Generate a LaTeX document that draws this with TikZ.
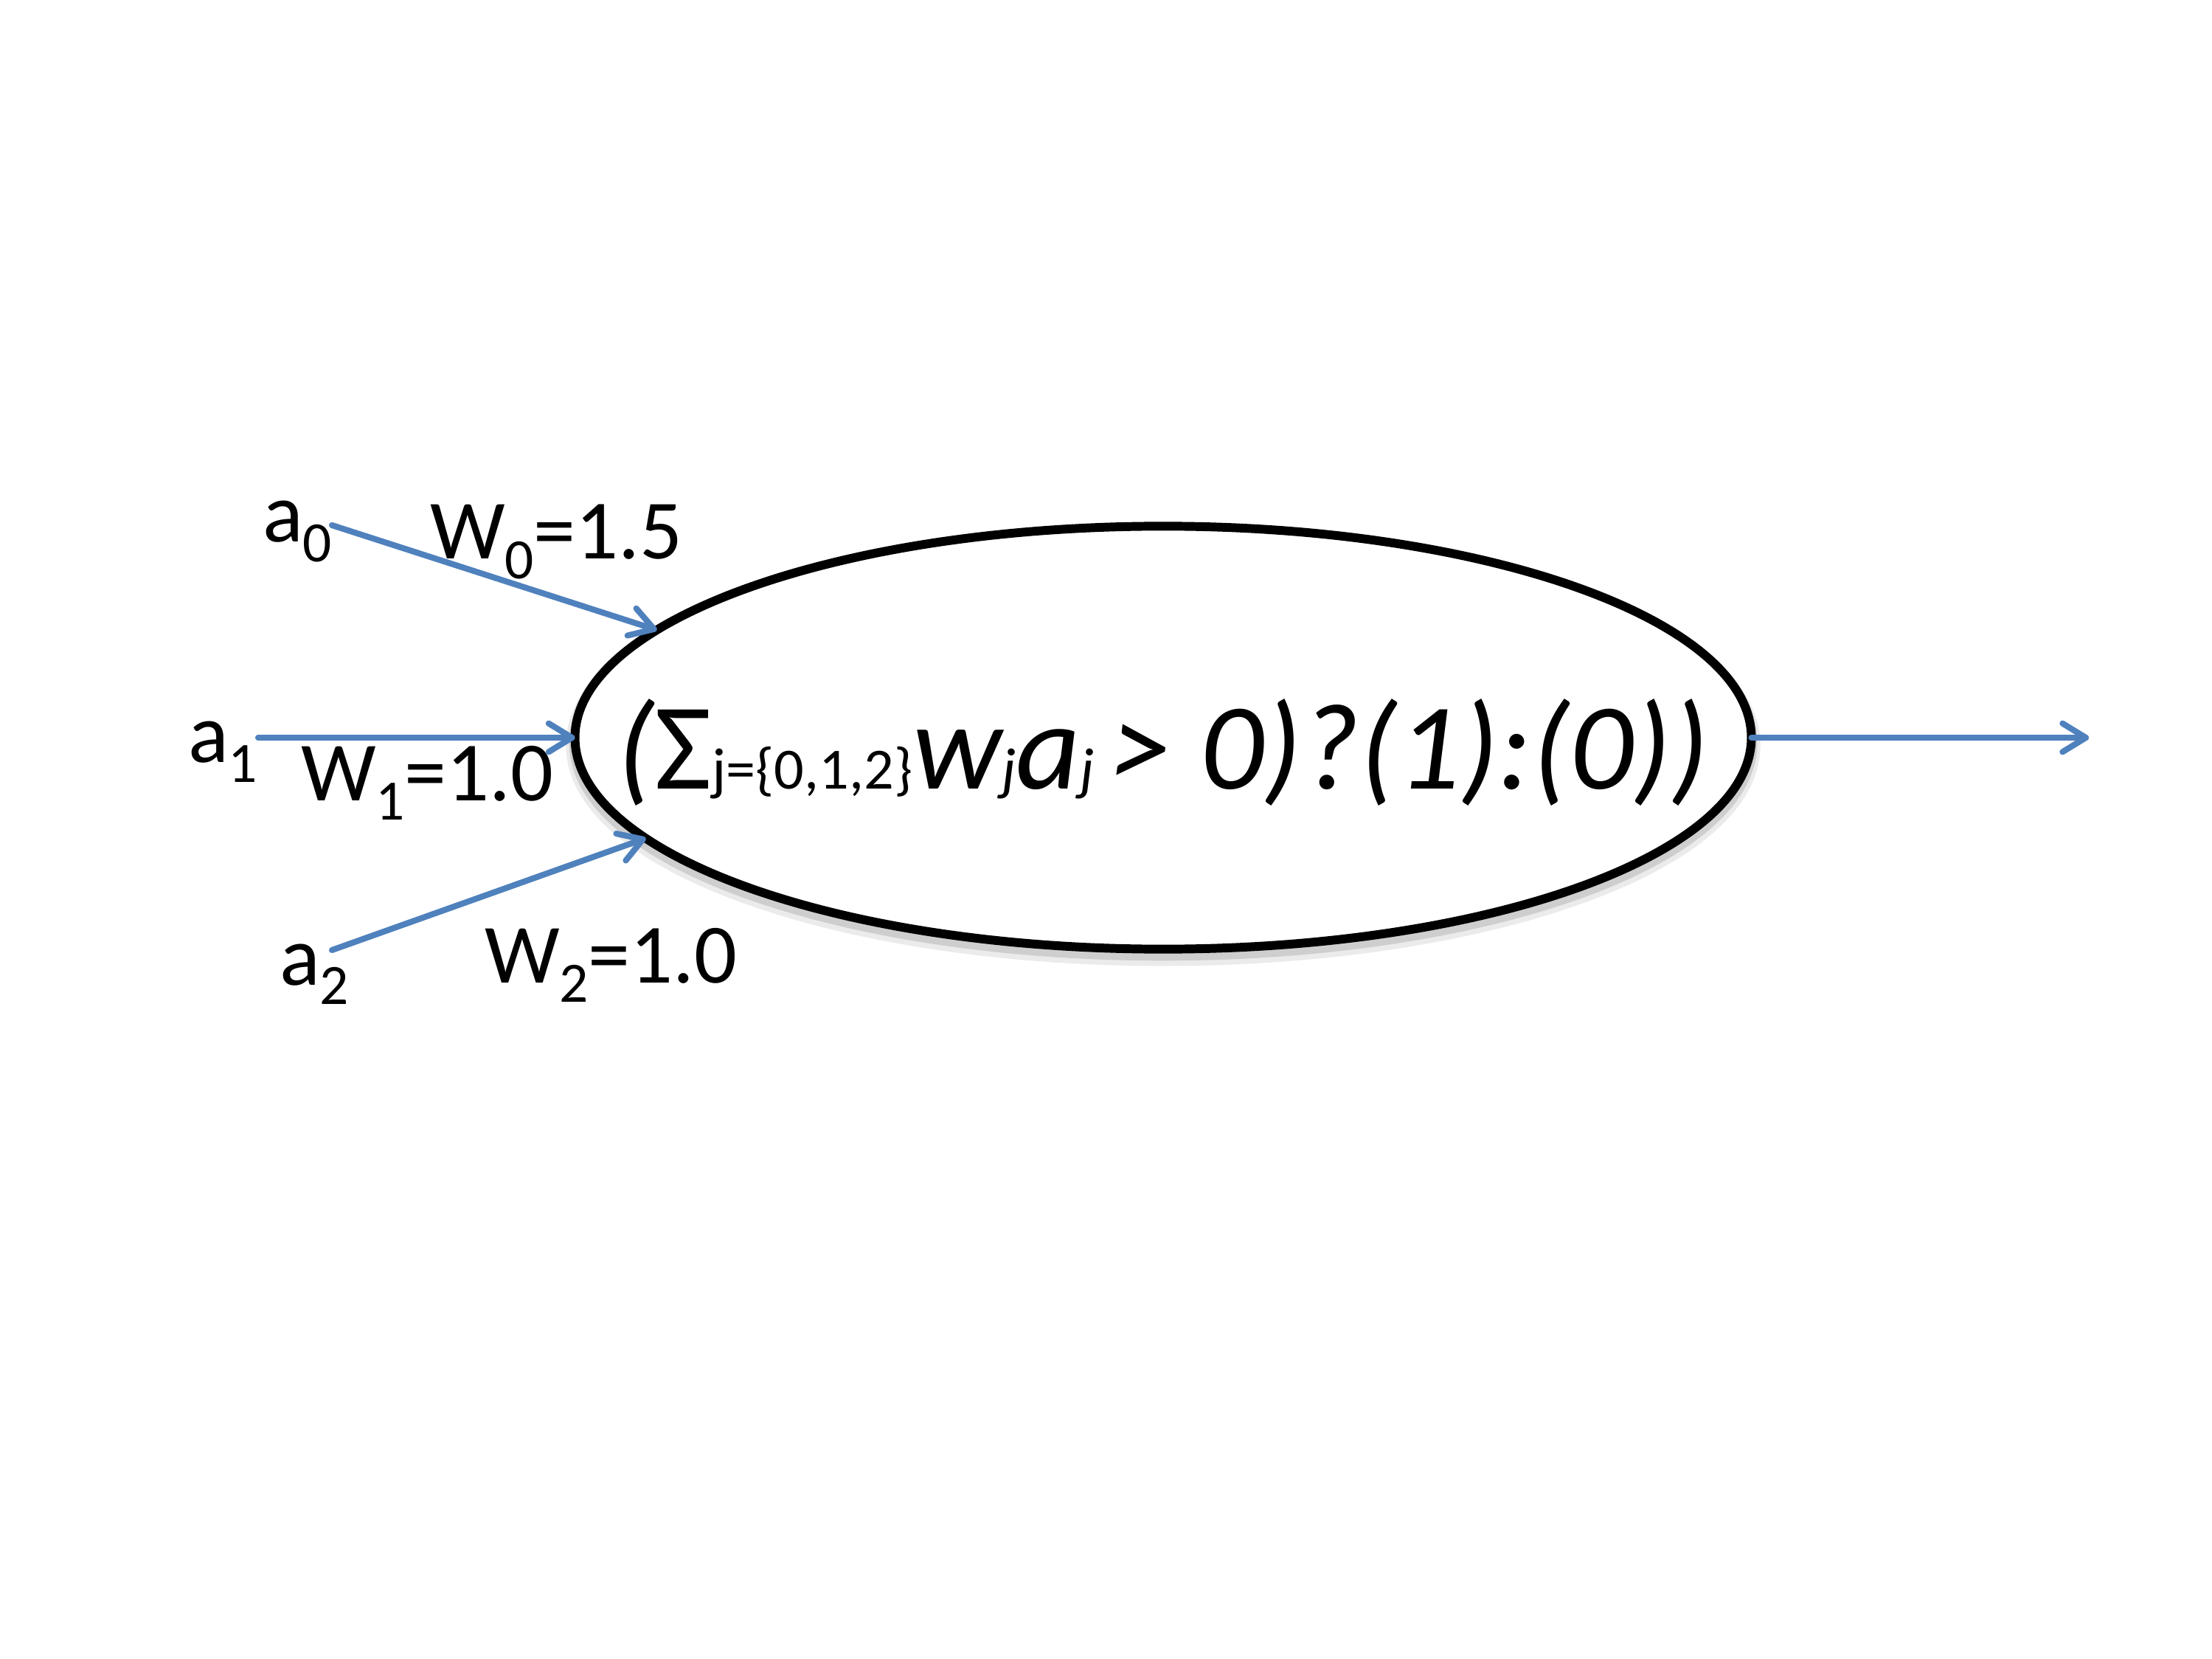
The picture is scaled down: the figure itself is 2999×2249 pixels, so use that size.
\documentclass[tikz,border=0pt]{standalone}
\usepackage{fontspec}
\setmainfont{Carlito}
\usetikzlibrary{arrows.meta,shapes.geometric}
\definecolor{lineblue}{HTML}{4F81BD}
\newcommand{\lblsub}[1]{\raisebox{-7.4pt}{\fontsize{22}{26}\selectfont #1}}
\newcommand{\fsmall}[1]{{\fontsize{22.5}{27}\selectfont #1}}
\begin{document}
\begin{tikzpicture}[x=0.01cm,y=-0.01cm,
  lbl/.style={inner sep=0pt, outer sep=0pt, anchor=base west, font=\fontsize{32.5}{38}\selectfont},
  conn/.style={draw=lineblue, line width=2.3pt, line cap=round,
    -{Straight Barb[length=9pt,width=11pt,round]}},
  neuronbox/.style={ellipse, draw=black, line width=3.4pt, fill=white,
    minimum width=15.94cm, minimum height=5.73cm, inner sep=0pt, outer sep=0pt,
    preaction={draw=black, draw opacity=0.08, line width=7pt, transform canvas={yshift=-3pt}},
    preaction={draw=black, draw opacity=0.12, line width=4.5pt, transform canvas={yshift=-2.2pt}}},
  ]
\useasboundingbox (0,0) rectangle (2999,2249);
\fill[white] (0,0) rectangle (2999,2249);

\node[neuronbox] (neuron) at (1577,1000) {};
\node[inner sep=0pt, outer sep=0pt, anchor=base west] (formula) at (836,1070)
  {\scalebox{1.015}[1]{\fontsize{47.5}{56}\selectfont\itshape (\textup{Σ}\fsmall{\upshape j=\{0,1,2\}}w\fsmall{j}a\fsmall{j}\kern0.12em>\ 0)?(1):(0))}};

\node[lbl] (a0) at (356,735) {a\lblsub{0}};
\node[lbl] (w0) at (583,758) {W\lblsub{0}=1.5};
\node[lbl] (a1) at (255,1034) {a\lblsub{1}};
\node[lbl] (w1) at (408,1085) {W\lblsub{1}=1.0};
\node[lbl] (a2) at (379,1335) {a\lblsub{2}};
\node[lbl] (w2) at (657,1332) {W\lblsub{2}=1.0};

\coordinate (s0) at (450,712);
\coordinate (s1) at (350,1000);
\coordinate (s2) at (450,1288);
\coordinate (out) at (2832,1000);

\draw[conn] (s0) -- (neuron.168.6);
\draw[conn] (s1) -- (neuron.west);
\draw[conn] (s2) -- (neuron.191.6);
\draw[conn] (neuron.east) -- (out);
\end{tikzpicture}
\end{document}
